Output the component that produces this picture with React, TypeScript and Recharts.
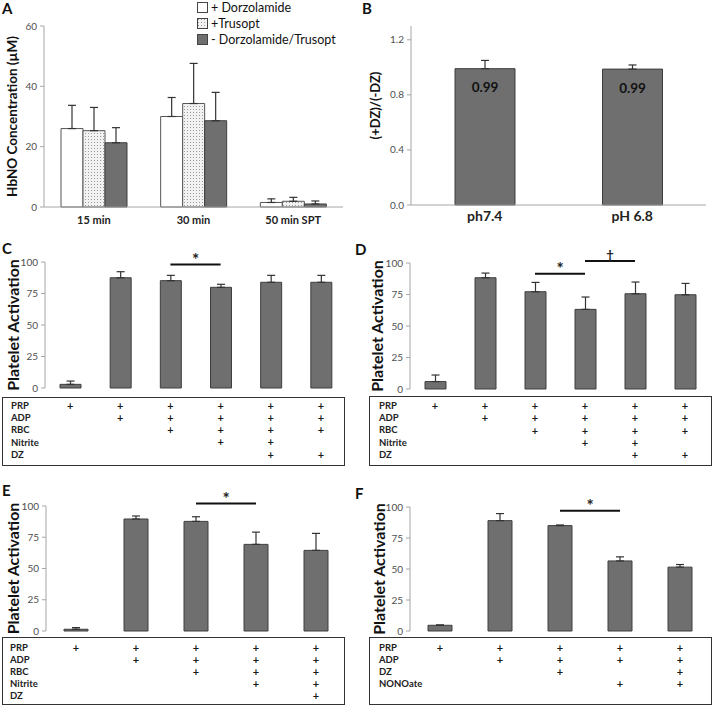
import React from "react";
import {
  BarChart,
  Bar,
  XAxis,
  YAxis,
  ErrorBar,
  ReferenceLine,
  LabelList,
} from "recharts";

// ---- panel A: HbNO concentration ----
const timePoints = ["15 min", "30 min", "50 min SPT"];
const dorzolamide = [26.0, 30.0, 1.5];
const dorzolamideErr = [7.7, 6.3, 1.2];
const trusopt = [25.3, 34.3, 1.9];
const trusoptErr = [7.7, 13.3, 1.3];
const noDrug = [21.3, 28.6, 1.0];
const noDrugErr = [5.0, 9.4, 1.0];
const hbnoTicks = [0, 20, 40, 60];

// ---- panel B: ratio ----
const phLabels = ["ph7.4", "pH 6.8"];
const dzRatio = [0.99, 0.987];
const dzRatioErr = [0.06, 0.03];
const ratioTicks = [0, 0.4, 0.8, 1.2];

// ---- panels C-F: platelet activation ----
const activationTicks = [0, 25, 50, 75, 100];

const rowsC = ["PRP", "ADP", "RBC", "Nitrite", "DZ"];
const marksC = [
  [1, 1, 1, 1, 1, 1],
  [0, 1, 1, 1, 1, 1],
  [0, 0, 1, 1, 1, 1],
  [0, 0, 0, 1, 1, 0],
  [0, 0, 0, 0, 1, 1],
];
const activationC = [2.9, 87.5, 85.2, 79.9, 83.9, 83.9];
const activationErrC = [2.6, 4.8, 4.2, 2.4, 5.5, 5.5];
const sigC = [{ from: 2, to: 3, y: 98, mark: "*" }];

const rowsD = ["PRP", "ADP", "RBC", "Nitrite", "DZ"];
const marksD = [
  [1, 1, 1, 1, 1, 1],
  [0, 1, 1, 1, 1, 1],
  [0, 0, 1, 1, 1, 1],
  [0, 0, 0, 1, 1, 0],
  [0, 0, 0, 0, 1, 1],
];
const activationD = [5.9, 88.3, 77.2, 63.2, 75.6, 74.8];
const activationErrD = [5.2, 3.7, 7.4, 9.8, 9.3, 9.0];
const sigD = [
  { from: 2, to: 3, y: 91.5, mark: "*" },
  { from: 3, to: 4, y: 101.6, mark: "†" },
];

const rowsE = ["PRP", "ADP", "RBC", "Nitrite", "DZ"];
const marksE = [
  [1, 1, 1, 1, 1],
  [0, 1, 1, 1, 1],
  [0, 0, 1, 1, 1],
  [0, 0, 0, 1, 1],
  [0, 0, 0, 0, 1],
];
const activationE = [1.4, 89.6, 87.7, 69.3, 64.5];
const activationErrE = [1.3, 2.4, 3.7, 9.8, 13.6];
const sigE = [{ from: 2, to: 3, y: 102, mark: "*" }];

const rowsF = ["PRP", "ADP", "DZ", "NONOate"];
const marksF = [
  [1, 1, 1, 1, 1],
  [0, 1, 1, 1, 1],
  [0, 0, 1, 0, 1],
  [0, 0, 0, 1, 1],
];
const activationF = [4.6, 89.0, 85.0, 56.5, 51.5];
const activationErrF = [0.3, 5.7, 0.5, 3.3, 2.1];
const sigF = [{ from: 2, to: 3, y: 97, mark: "*" }];

const BAR_FILL = "#6f6f6f";
const BAR_STROKE = "#3e3e3e";
const AXIS = "#a6a6a6";
const TICK = { fontSize: 10, fill: "#505050" };

const seriesA = [
  { key: "dz", err: "dzErr", name: "+ Dorzolamide", fill: "#ffffff" },
  { key: "tru", err: "truErr", name: "+Trusopt", fill: "url(#dots)" },
  { key: "none", err: "noneErr", name: "- Dorzolamide/Trusopt", fill: BAR_FILL },
];

const dataA = timePoints.map((t, i) => ({
  time: t,
  dz: dorzolamide[i],
  dzErr: [0, dorzolamideErr[i]],
  tru: trusopt[i],
  truErr: [0, trusoptErr[i]],
  none: noDrug[i],
  noneErr: [0, noDrugErr[i]],
}));

const dataB = phLabels.map((p, i) => ({
  ph: p,
  ratio: dzRatio[i],
  err: [0, dzRatioErr[i]],
}));

function yLabel(text: string, x: number, size: number, shift = 0) {
  return (props: any) => {
    const vb = props.viewBox || {};
    const cy = (vb.y ?? 0) + (vb.height ?? 0) / 2 + shift;
    return (
      <text
        x={x}
        y={cy}
        transform={`rotate(-90 ${x} ${cy})`}
        textAnchor="middle"
        dominantBaseline="central"
        fontSize={size}
        fontWeight={700}
        fill="#111"
      >
        {text}
      </text>
    );
  };
}

function tableTick(marks: number[][], offset: number, step: number) {
  return (props: any) => {
    const { x, y, index, payload } = props;
    const i = index ?? payload?.index ?? 0;
    return (
      <g>
        {marks.map((row, r) =>
          row[i] ? (
            <text
              key={r}
              x={x}
              y={y + offset + r * step}
              dy="0.35em"
              textAnchor="middle"
              fontSize={11}
              fontWeight={700}
              fill="#1a1a1a"
              stroke="none"
            >
              +
            </text>
          ) : null
        )}
      </g>
    );
  };
}

interface PanelProps {
  letter: string;
  letterTop: number;
  left: number;
  top: number;
  height: number;
  margin: { top: number; right: number; bottom: number; left: number };
  yAxisWidth: number;
  xAxisHeight: number;
  barSize: number;
  rows: string[];
  marks: number[][];
  values: number[];
  errors: number[];
  sig: { from: number; to: number; y: number; mark: string }[];
  labelX: number;
  rowOffset: number;
  rowStep: number;
  box: { left: number; top: number; width: number; height: number };
  rowLabelLeft: number;
  rowLabelTop: number;
}

function PlateletPanel(p: PanelProps) {
  const groups = p.values.map((_, j) =>
    p.rows.filter((_, r) => p.marks[r][j]).join("+")
  );
  const data = groups.map((g, j) => ({
    group: g,
    activation: p.values[j],
    err: [0, p.errors[j]],
  }));
  return (
    <>
      <div
        style={{
          position: "absolute",
          left: p.box.left,
          top: p.box.top,
          width: p.box.width,
          height: p.box.height,
          border: "1.5px solid #333",
          boxSizing: "border-box",
        }}
      />
      {p.rows.map((r, i) => (
        <div
          key={r}
          style={{
            position: "absolute",
            left: p.rowLabelLeft,
            top: p.rowLabelTop + i * p.rowStep - 6,
            height: 12,
            lineHeight: "12px",
            fontSize: 9.5,
            fontWeight: 700,
            color: "#222",
          }}
        >
          {r}
        </div>
      ))}
      <div
        style={{
          position: "absolute",
          left: p.left + 2,
          top: p.letterTop - 9,
          fontSize: 15,
          fontWeight: 700,
        }}
      >
        {p.letter}
      </div>
      <div style={{ position: "absolute", left: p.left, top: p.top }}>
        <BarChart
          width={360}
          height={p.height}
          data={data}
          margin={p.margin}
          barSize={p.barSize}
        >
          <XAxis
            dataKey="group"
            axisLine={false}
            tickLine={false}
            tickSize={0}
            tickMargin={0}
            height={p.xAxisHeight}
            interval={0}
            tick={tableTick(p.marks, p.rowOffset, p.rowStep)}
          />
          <YAxis
            width={p.yAxisWidth}
            domain={[0, 100]}
            ticks={activationTicks}
            interval={0}
            tickSize={4}
            tickMargin={3}
            stroke={AXIS}
            tick={TICK}
            label={yLabel("Platelet Activation", p.labelX, 16)}
          />
          <Bar
            dataKey="activation"
            fill={BAR_FILL}
            stroke={BAR_STROKE}
            strokeWidth={1}
            isAnimationActive={false}
          >
            <ErrorBar
              dataKey="err"
              direction="y"
              width={4}
              stroke="#333"
              strokeWidth={1.2}
            />
          </Bar>
          {p.sig.map((s, i) => (
            <ReferenceLine
              key={i}
              ifOverflow="visible"
              segment={[
                { x: groups[s.from], y: s.y },
                { x: groups[s.to], y: s.y },
              ]}
              stroke="#111"
              strokeWidth={2}
              label={{
                value: s.mark,
                position: "top",
                offset: s.mark === "*" ? -1 : 1,
                fontSize: s.mark === "*" ? 17 : 13,
                fontWeight: 700,
                fill: "#222",
              }}
            />
          ))}
        </BarChart>
      </div>
    </>
  );
}

export default function App() {
  return (
    <div
      style={{
        position: "absolute",
        left: 0,
        top: 0,
        width: 713,
        height: 706,
        background: "#fff",
        overflow: "hidden",
        fontFamily: "Lato, 'Open Sans', sans-serif",
        color: "#111",
      }}
    >
      <svg width={0} height={0} style={{ position: "absolute" }}>
        <defs>
          <pattern id="dots" width={3} height={3} patternUnits="userSpaceOnUse">
            <rect width={3} height={3} fill="#f2f2f2" />
            <rect x={1} y={1} width={1} height={1} fill="#9a9a9a" />
          </pattern>
        </defs>
      </svg>

      {/* panel A */}
      <div style={{ position: "absolute", left: 2, top: -1, fontSize: 15, fontWeight: 700 }}>A</div>
      <div style={{ position: "absolute", left: 0, top: 0 }}>
        <BarChart
          width={360}
          height={232}
          data={dataA}
          margin={{ top: 26, right: 17, bottom: 0, left: 0 }}
          barSize={22}
          barGap={0}
        >
          <XAxis
            dataKey="time"
            height={25}
            tickLine={false}
            tickSize={0}
            tickMargin={9}
            stroke={AXIS}
            tick={{ fontSize: 11, fontWeight: 700, fill: "#222" }}
          />
          <YAxis
            width={44}
            domain={[0, 60]}
            ticks={hbnoTicks}
            interval={0}
            tickSize={4}
            tickMargin={3}
            stroke={AXIS}
            tick={TICK}
            label={yLabel("HbNO Concentration (µM)", 12, 13.5)}
          />
          {seriesA.map((s) => (
            <Bar
              key={s.key}
              dataKey={s.key}
              name={s.name}
              fill={s.fill}
              stroke={s.key === "none" ? BAR_STROKE : "#555"}
              strokeWidth={1}
              isAnimationActive={false}
            >
              <ErrorBar dataKey={s.err} direction="y" width={4} stroke="#333" strokeWidth={1.2} />
            </Bar>
          ))}
        </BarChart>
      </div>
      <div style={{ position: "absolute", left: 197, top: -1 }}>
        {seriesA.map((s) => (
          <div key={s.key} style={{ display: "flex", alignItems: "center", height: 16, fontSize: 12.5 }}>
            <svg width={11} height={11}>
              <rect x={0.5} y={0.5} width={10} height={10} fill={s.fill} stroke="#444" strokeWidth={1} />
            </svg>
            <span style={{ marginLeft: 3, whiteSpace: "nowrap" }}>{s.name}</span>
          </div>
        ))}
      </div>

      {/* panel B */}
      <div style={{ position: "absolute", left: 362, top: -1, fontSize: 15, fontWeight: 700 }}>B</div>
      <div style={{ position: "absolute", left: 360, top: 0 }}>
        <BarChart
          width={353}
          height={232}
          data={dataB}
          margin={{ top: 26, right: 7, bottom: 0, left: 0 }}
          barSize={60}
        >
          <XAxis
            dataKey="ph"
            height={27}
            tickLine={false}
            tickSize={0}
            tickMargin={6}
            stroke={AXIS}
            tick={{ fontSize: 14, fontWeight: 700, fill: "#222" }}
          />
          <YAxis
            width={51}
            domain={[0, 1.3]}
            ticks={ratioTicks}
            interval={0}
            tickSize={4}
            tickMargin={3}
            stroke={AXIS}
            tick={TICK}
            tickFormatter={(v: number) => v.toFixed(1)}
            label={yLabel("(+DZ)/(-DZ)", 15, 13, -10)}
          />
          <Bar
            dataKey="ratio"
            fill={BAR_FILL}
            stroke={BAR_STROKE}
            strokeWidth={1}
            isAnimationActive={false}
          >
            <ErrorBar dataKey="err" direction="y" width={4} stroke="#333" strokeWidth={1.2} />
            <LabelList
              dataKey="ratio"
              position="insideTop"
              offset={14}
              formatter={(v: any) => Number(v).toFixed(2)}
              style={{ fontSize: 13.5, fontWeight: 700, fill: "#111" }}
            />
          </Bar>
        </BarChart>
      </div>

      <PlateletPanel
        letter="C"
        letterTop={248}
        left={0}
        top={240}
        height={230}
        margin={{ top: 22, right: 14, bottom: 0, left: 0 }}
        yAxisWidth={45}
        xAxisHeight={82}
        barSize={21}
        rows={rowsC}
        marks={marksC}
        values={activationC}
        errors={activationErrC}
        sig={sigC}
        labelX={12}
        rowOffset={18}
        rowStep={12.2}
        box={{ left: 2, top: 397, width: 343, height: 69 }}
        rowLabelLeft={11}
        rowLabelTop={406}
      />
      <PlateletPanel
        letter="D"
        letterTop={249}
        left={353}
        top={240}
        height={230}
        margin={{ top: 23, right: 3, bottom: 0, left: 0 }}
        yAxisWidth={57}
        xAxisHeight={81}
        barSize={21}
        rows={rowsD}
        marks={marksD}
        values={activationD}
        errors={activationErrD}
        sig={sigD}
        labelX={23}
        rowOffset={17.3}
        rowStep={12.2}
        box={{ left: 369, top: 396, width: 343, height: 70 }}
        rowLabelLeft={379}
        rowLabelTop={406}
      />
      <PlateletPanel
        letter="E"
        letterTop={490}
        left={0}
        top={480}
        height={226}
        margin={{ top: 26, right: 14, bottom: 0, left: 0 }}
        yAxisWidth={46}
        xAxisHeight={75}
        barSize={24}
        rows={rowsE}
        marks={marksE}
        values={activationE}
        errors={activationErrE}
        sig={sigE}
        labelX={12}
        rowOffset={17.6}
        rowStep={12}
        box={{ left: 2, top: 637, width: 343, height: 68 }}
        rowLabelLeft={10}
        rowLabelTop={648}
      />
      <PlateletPanel
        letter="F"
        letterTop={493}
        left={353}
        top={480}
        height={226}
        margin={{ top: 27, right: 3, bottom: 0, left: 0 }}
        yAxisWidth={57}
        xAxisHeight={75}
        barSize={24}
        rows={rowsF}
        marks={marksF}
        values={activationF}
        errors={activationErrF}
        sig={sigF}
        labelX={25}
        rowOffset={16.7}
        rowStep={12.1}
        box={{ left: 369, top: 637, width: 343, height: 68 }}
        rowLabelLeft={379}
        rowLabelTop={648}
      />
    </div>
  );
}
